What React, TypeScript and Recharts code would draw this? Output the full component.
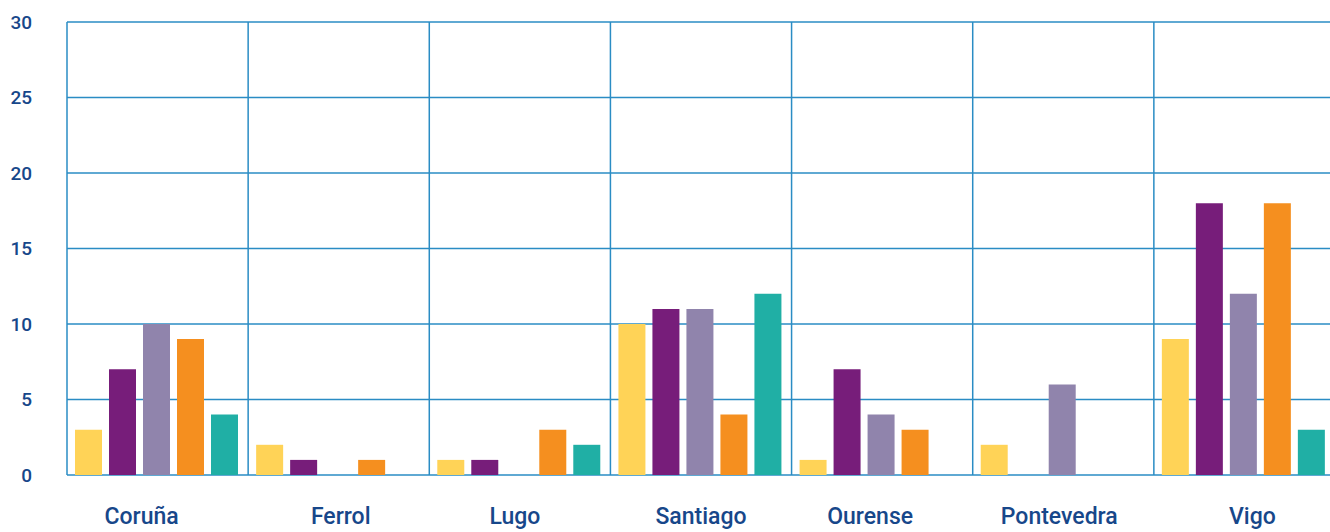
import { Bar, BarChart, CartesianGrid, XAxis, YAxis } from 'recharts';

const cities = ['Coruña', 'Ferrol', 'Lugo', 'Santiago', 'Ourense', 'Pontevedra', 'Vigo'];
const serieA = [3, 2, 1, 10, 1, 2, 9];
const serieB = [7, 1, 1, 11, 7, 0, 18];
const serieC = [10, 0, 0, 11, 4, 6, 12];
const serieD = [9, 1, 3, 4, 3, 0, 18];
const serieE = [4, 0, 2, 12, 0, 0, 3];
const yTicks = [0, 5, 10, 15, 20, 25, 30];

const seriesColors = ['#FFD357', '#771D7A', '#9084AC', '#F58F1F', '#20AFA5'];
const seriesKeys = ['a', 'b', 'c', 'd', 'e'];
// label nudges (px) to follow the original hand-placed labels
const labelShift = [-16, 2, -5, 0, -12, -4, 8];

const data = cities.map((city, i) => ({
  city,
  a: serieA[i],
  b: serieB[i],
  c: serieC[i],
  d: serieD[i],
  e: serieE[i],
}));

const GRID = '#2a8cc4';
const TEXT = '#17478a';

const CityTick = ({ x, y, payload, index }: any) => (
  <text
    x={x + (labelShift[index] ?? 0)}
    y={y + 49}
    textAnchor="middle"
    fill={TEXT}
    fontSize={23}
    fontWeight={500}
    fontFamily="Roboto, sans-serif"
  >
    {payload.value}
  </text>
);

export default function App() {
  return (
    <div
      style={{
        position: 'fixed',
        left: 0,
        top: 0,
        width: 1330,
        height: 532,
        overflow: 'hidden',
        background: '#fff',
      }}
    >
      <BarChart
        width={1345}
        height={532}
        data={data}
        margin={{ top: 22, right: 10, left: 0, bottom: 0 }}
        barCategoryGap={8}
        barGap={7}
      >
        <CartesianGrid
          stroke={GRID}
          strokeWidth={1.5}
          verticalCoordinatesGenerator={({ offset }: any) =>
            cities.map((_, i) => offset.left + (offset.width * i) / cities.length).concat(offset.left + offset.width)
          }
        />
        <XAxis
          dataKey="city"
          height={57}
          axisLine={false}
          tickLine={false}
          tickSize={0}
          tickMargin={0}
          interval={0}
          tick={<CityTick />}
        />
        <YAxis
          width={67}
          domain={[0, 30]}
          ticks={yTicks}
          axisLine={false}
          tickLine={false}
          tickSize={0}
          tickMargin={35}
          tick={{ fill: TEXT, fontSize: 19, fontWeight: 500, fontFamily: 'Roboto, sans-serif' }}
        />
        {seriesKeys.map((k, i) => (
          <Bar key={k} dataKey={k} fill={seriesColors[i]} isAnimationActive={false} />
        ))}
      </BarChart>
    </div>
  );
}
